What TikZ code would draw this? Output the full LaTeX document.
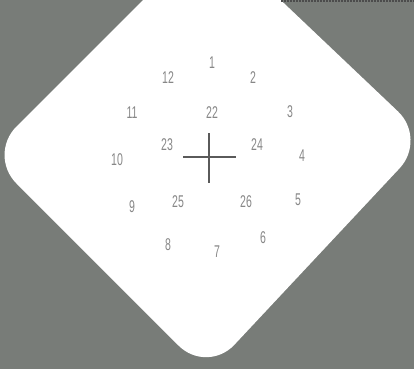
\documentclass[tikz,border=0pt]{standalone}
\usepackage{fontspec}
\usepackage{graphicx}
\setmainfont{Liberation Sans}
\definecolor{bggray}{RGB}{120,124,120}
\definecolor{numgray}{RGB}{135,135,135}
\definecolor{crossgray}{RGB}{90,90,90}
\tikzset{
  num/.style={text=numgray, inner sep=0pt, font=\fontsize{17}{17}\selectfont},
  crossline/.style={draw=crossgray, line width=1.6pt}
}
\newcommand{\nn}[1]{\scalebox{0.62}[1]{#1}}
\begin{document}
\begin{tikzpicture}[x=1pt,y=-1pt]
\useasboundingbox (0,0) rectangle (414,369);
\fill[bggray] (0,0) rectangle (414,369);
\begin{scope}
\clip (0,0) rectangle (414,369);
\fill[white, rounded corners=40pt] (210,-67) -- (427,139) -- (207,374) -- (-12,155) -- cycle;
\end{scope}
\draw[line width=1.2pt, black!70, dashed, dash pattern=on 2pt off 1pt] (281,1) -- (414,1);
% numbers
\node[num] (n1)  at (212,63)  {\nn{1}};
\node[num] (n12) at (168,78)  {\nn{12}};
\node[num] (n2)  at (253,78)  {\nn{2}};
\node[num] (n11) at (132,113) {\nn{11}};
\node[num] (n22) at (212,113) {\nn{22}};
\node[num] (n3)  at (290,112) {\nn{3}};
\node[num] (n23) at (167,145) {\nn{23}};
\node[num] (n24) at (257,145) {\nn{24}};
\node[num] (n10) at (117,160) {\nn{10}};
\node[num] (n4)  at (302,156) {\nn{4}};
\node[num] (n9)  at (132,207) {\nn{9}};
\node[num] (n25) at (178,202) {\nn{25}};
\node[num] (n26) at (246,202) {\nn{26}};
\node[num] (n5)  at (298,200) {\nn{5}};
\node[num] (n8)  at (168,245) {\nn{8}};
\node[num] (n7)  at (217,252) {\nn{7}};
\node[num] (n6)  at (263,238) {\nn{6}};
% cross
\coordinate (cl) at (183,157);
\coordinate (cr) at (236,157);
\coordinate (ct) at (209,133);
\coordinate (cb) at (209,183);
\draw[crossline] (cl) -- (cr);
\draw[crossline] (ct) -- (cb);
\end{tikzpicture}
\end{document}
